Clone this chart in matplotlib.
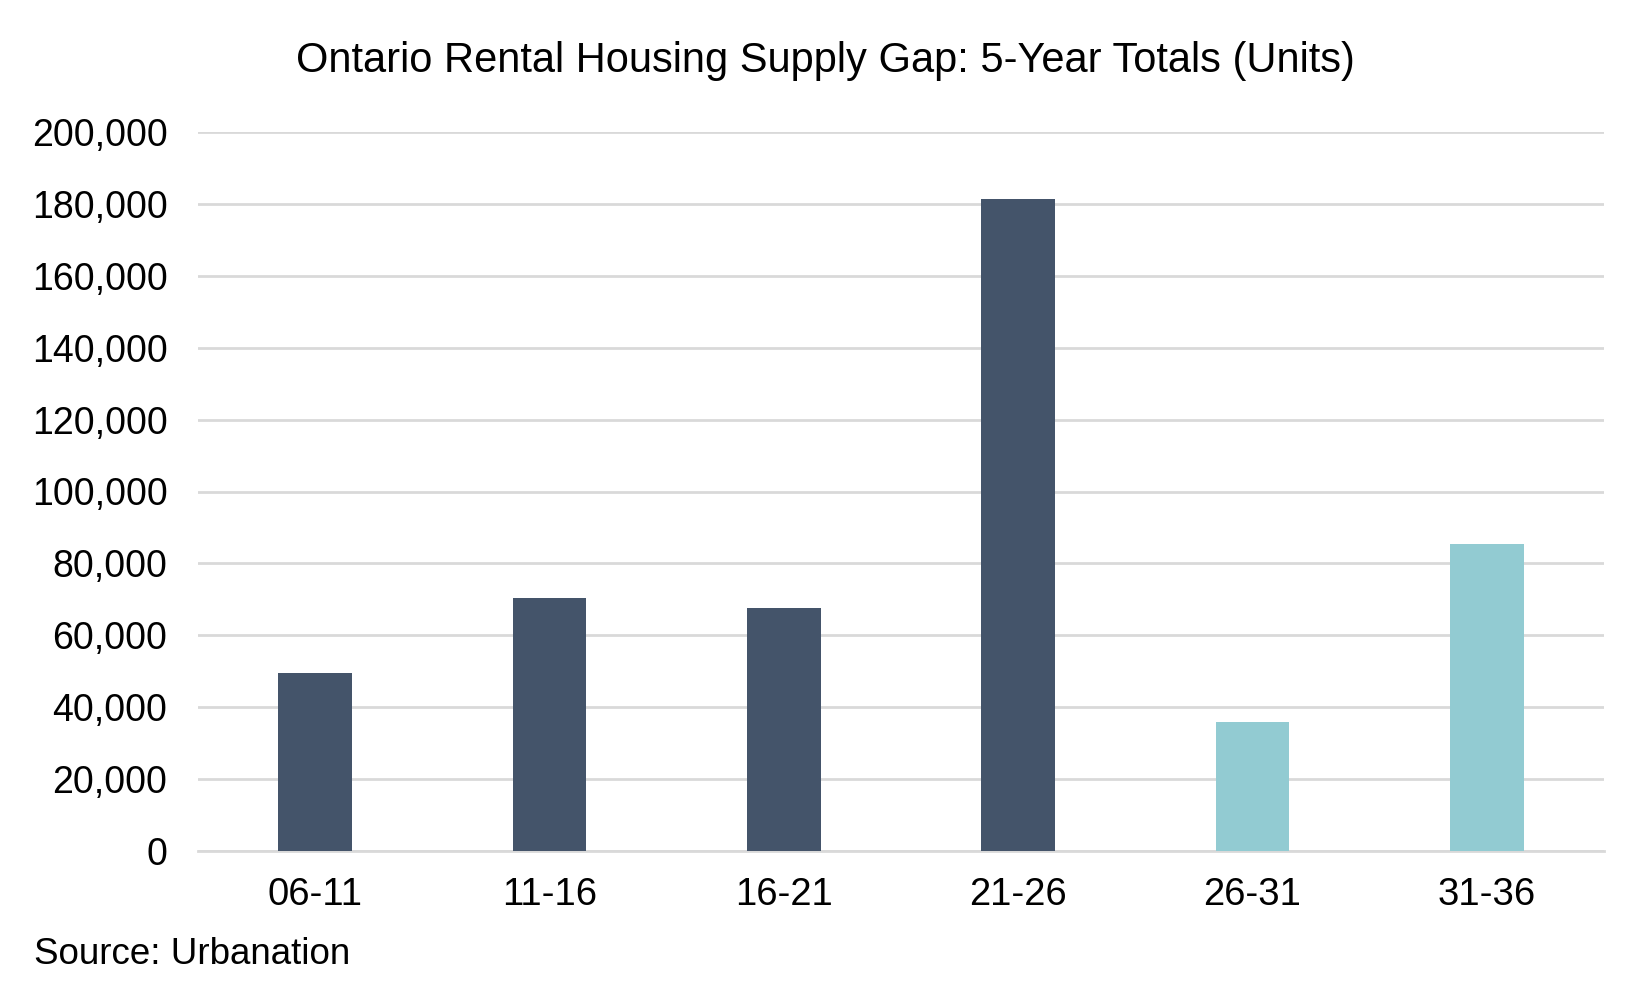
import matplotlib
matplotlib.use("Agg")
import matplotlib.pyplot as plt
from matplotlib.ticker import FuncFormatter

categories = ["06-11", "11-16", "16-21", "21-26", "26-31", "31-36"]
values = [49500, 70300, 67600, 181400, 35800, 85400]
bar_colors = ["#44546A", "#44546A", "#44546A", "#44546A", "#92CBD2", "#92CBD2"]
yticks = [0, 20000, 40000, 60000, 80000, 100000, 120000, 140000, 160000, 180000, 200000]
title = "Ontario Rental Housing Supply Gap: 5-Year Totals (Units)"
source = "Source: Urbanation"

plt.rcParams['font.family'] = ['Liberation Sans', 'DejaVu Sans']

fig = plt.figure(figsize=(16.5, 9.9), dpi=100)
ax = fig.add_axes([198/1650, 1 - 851/990, (1604-198)/1650, (851-132)/990])

x = list(range(len(categories)))
ax.bar(x, values, width=0.315, color=bar_colors, zorder=3)
ax.set_xlim(-0.5, len(categories) - 0.5)
ax.set_ylim(0, 200000)
ax.set_yticks(yticks)
ax.yaxis.set_major_formatter(FuncFormatter(lambda v, p: f"{int(v):,}"))
ax.set_xticks(x)
ax.set_xticklabels(categories)
ax.grid(axis='y', color='#D9D9D9', linewidth=2.0, zorder=0)
ax.set_axisbelow(True)
for s in ['top', 'right', 'left']:
    ax.spines[s].set_visible(False)
ax.spines['bottom'].set_color('#D9D9D9')
ax.spines['bottom'].set_linewidth(2.0)
ax.tick_params(axis='both', length=0, labelsize=27, colors='black')
ax.tick_params(axis='y', pad=22)
ax.tick_params(axis='x', pad=19)
for lbl in ax.get_xticklabels():
    lbl.set_fontsize(27.5)

fig.text(0.5, 1 - 61/990, title, ha='center', va='center', fontsize=30)
fig.text(34/1650, 1 - 954/990, source, ha='left', va='center', fontsize=26.5)

fig.savefig("out.png", dpi=100, facecolor='white')
